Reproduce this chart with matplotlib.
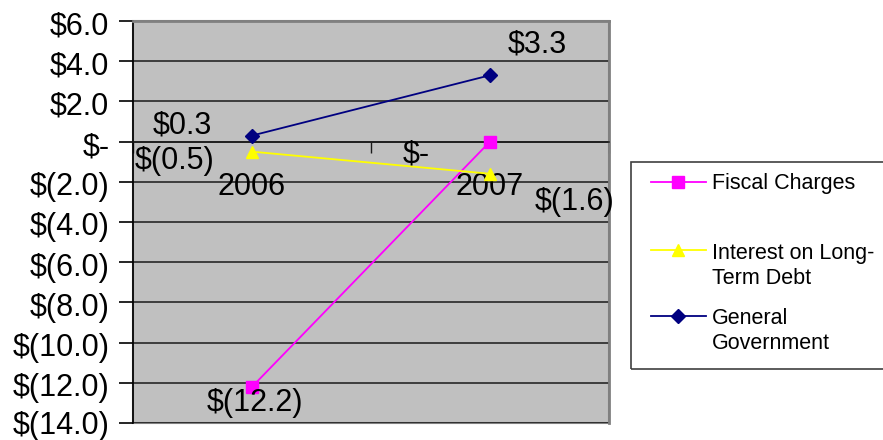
import matplotlib
matplotlib.use("Agg")
import matplotlib.pyplot as plt
from matplotlib.patches import Rectangle
from matplotlib.lines import Line2D
from matplotlib.transforms import ScaledTranslation

plt.rcParams['font.family'] = ['Liberation Sans', 'DejaVu Sans']

# ---- data ----
categories = ["2006", "2007"]
fiscal_charges = [-12.2, 0.0]
interest_ltd = [-0.5, -1.6]
general_gov = [0.3, 3.3]
fiscal_labels = ["$(12.2)", "$-"]
interest_labels = ["$(0.5)", "$(1.6)"]
general_labels = ["$0.3", "$3.3"]
series_names = ["Fiscal Charges", "Interest on Long-\nTerm Debt", "General\nGovernment"]
y_ticks = [6, 4, 2, 0, -2, -4, -6, -8, -10, -12, -14]
y_tick_labels = ["$6.0", "$4.0", "$2.0", "$-", "$(2.0)", "$(4.0)", "$(6.0)",
                 "$(8.0)", "$(10.0)", "$(12.0)", "$(14.0)"]

W, H = 883, 440
fig = plt.figure(figsize=(W / 100, H / 100), dpi=100)
L, R, T, B = 133, 609, 21, 423
ax = fig.add_axes([L / W, 1 - B / H, (R - L) / W, (B - T) / H])
ax.set_facecolor("#C0C0C0")

x = [0.5, 1.5]
FS = 22
colors = ["#FF00FF", "#FFFF00", "#000080"]
markers = ["s", "^", "D"]
msizes = [8, 9, 7]
series = [fiscal_charges, interest_ltd, general_gov]

for yv in y_ticks:
    ax.axhline(yv, color="#1a1a1a", lw=1.1, zorder=1)

for s, c, m, ms in zip(series, colors, markers, msizes):
    ax.plot(x, s, color=c, marker=m, markersize=ms, lw=1.3, zorder=3,
            markeredgecolor=c)

ax.set_xlim(0, 2)
ax.set_ylim(-14, 6)
ax.set_yticks(y_ticks)
ax.set_yticklabels(y_tick_labels, fontsize=FS)
ax.tick_params(axis="y", length=10, width=1.2, pad=7, color="black")
shift = ScaledTranslation(0, -2 / 100, fig.dpi_scale_trans)
for t in ax.get_yticklabels()[:-1]:
    t.set_transform(t.get_transform() + shift)
bottom_shift = ScaledTranslation(0, 1 / 100, fig.dpi_scale_trans)
last = ax.get_yticklabels()[-1]
last.set_transform(last.get_transform() + bottom_shift)

# category axis at zero
ax.spines["bottom"].set_position(("data", 0))
ax.spines["bottom"].set_color("#1a1a1a")
ax.spines["bottom"].set_linewidth(1.1)
ax.set_xticks([0, 1, 2])
ax.set_xticklabels(["", "", ""])
ax.tick_params(axis="x", which="major", length=8, width=1, direction="out", color="#1a1a1a")
ax.set_xticks(x, minor=True)
ax.set_xticklabels(categories, minor=True, fontsize=FS)
ax.tick_params(axis="x", which="minor", length=0, pad=22)
for lab in ax.get_xticklabels(minor=True):
    lab.set_zorder(5)

ax.spines["left"].set_color("black")
ax.spines["left"].set_linewidth(1.2)
for side in ["top", "right"]:
    ax.spines[side].set_color("#808080")
    ax.spines[side].set_linewidth(2)
ax.add_patch(Rectangle((0, 0), 1, 1, transform=ax.transAxes, fill=False,
                       edgecolor="#808080", lw=1.5, zorder=0.5, clip_on=False))

# data labels (offsets in pixels)
def lab(xv, yv, text, dx, dy):
    ax.annotate(text, (xv, yv), xytext=(dx, dy), textcoords="offset pixels",
                ha="center", va="center", fontsize=FS, color="black", zorder=6,
                annotation_clip=False)

lab(x[0], general_gov[0], general_labels[0], -70, 10)
lab(x[1], general_gov[1], general_labels[1], 47, 31)
lab(x[0], interest_ltd[0], interest_labels[0], -77, -9)
lab(x[1], interest_ltd[1], interest_labels[1], 85, -28)
lab(x[0], fiscal_charges[0], fiscal_labels[0], 3, -16)
lab(x[1], fiscal_charges[1], fiscal_labels[1], -74, -13)

# legend (manual)
fig.patches.append(Rectangle((631 / W, 1 - 369 / H), 300 / W, (369 - 162) / H,
                             transform=fig.transFigure, fill=False,
                             edgecolor="#404040", lw=1.2))
leg_y = [182, 250, 316]
txt_y = [183, 266, 331]
LFS = 15.5
for name, c, m, ms, ly, ty in zip(series_names, colors, markers, msizes, leg_y, txt_y):
    fig.add_artist(Line2D([651 / W, 706 / W], [1 - ly / H, 1 - ly / H], color=c, lw=1.3,
                          transform=fig.transFigure))
    fig.add_artist(Line2D([678 / W], [1 - ly / H], color=c, marker=m, markersize=ms,
                          markeredgecolor=c, transform=fig.transFigure))
    fig.text(712 / W, 1 - ty / H, name, fontsize=LFS, va="center", ha="left",
             linespacing=1.2)

fig.savefig("out.png", dpi=100)
